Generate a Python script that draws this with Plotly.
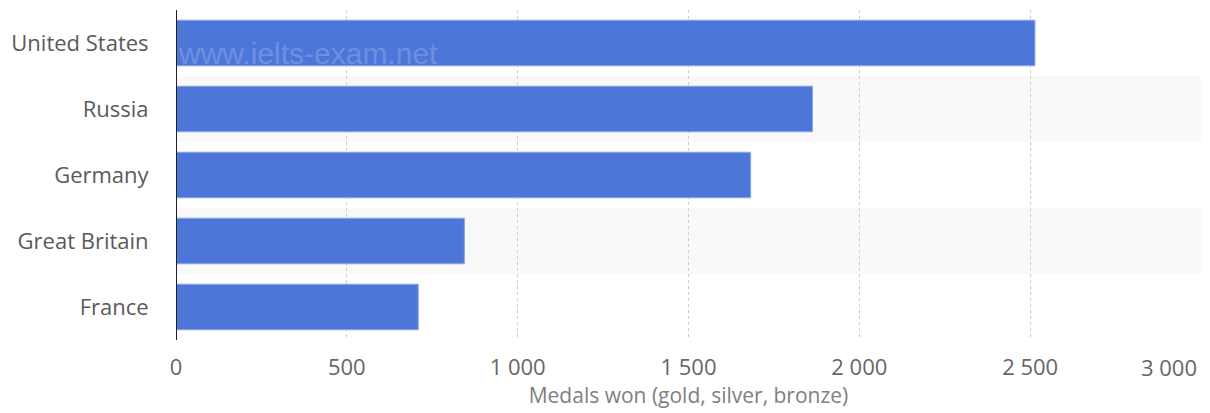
import plotly.graph_objects as go

countries = ["United States", "Russia", "Germany", "Great Britain", "France"]
medals = [2514, 1863, 1682, 844, 709]
tick_vals = [0, 500, 1000, 1500, 2000, 2500, 3000]
tick_text = ["0", "500", "1 000", "1 500", "2 000", "2 500", "3 000"]
banded_rows = ["Russia", "Great Britain"]

fig = go.Figure()
fig.add_trace(go.Bar(
    x=medals, y=countries, orientation="h",
    marker=dict(color="#4d76d9", line=dict(color="#8aa4e6", width=1)),
    width=0.69,
))

shapes = []
for name in banded_rows:
    idx = countries.index(name)
    shapes.append(dict(type="rect", xref="paper", yref="y", x0=0, x1=1,
                       y0=idx - 0.5, y1=idx + 0.5, fillcolor="#f9f9f9",
                       line=dict(width=0), layer="below"))

# last tick label is drawn shifted left so it stays inside the figure
shown_text = tick_text[:-1] + [""]

fig.update_layout(
    width=1210, height=413,
    margin=dict(l=176, r=9, t=10, b=73),
    paper_bgcolor="white", plot_bgcolor="white",
    font=dict(family="Open Sans", color="#666666"),
    showlegend=False,
    shapes=shapes,
    xaxis=dict(range=[0, 3000], tickvals=tick_vals, ticktext=shown_text,
               showgrid=True, gridcolor="#cccccc", griddash="dot", gridwidth=1,
               zeroline=False, showline=False, automargin=False,
               tickfont=dict(size=22, color="#666666"),
               ticks="outside", ticklen=8, tickcolor="rgba(0,0,0,0)",
               title=dict(text="Medals won (gold, silver, bronze)",
                          font=dict(size=21, color="#808080"), standoff=5)),
    yaxis=dict(autorange="reversed", showgrid=False, zeroline=False,
               showline=False, automargin=False,
               tickfont=dict(size=22, color="#5a5a5a"),
               ticks="outside", ticklen=22, tickcolor="rgba(0,0,0,0)"),
    bargap=0.31,
)
fig.add_shape(type="line", xref="x", yref="paper", x0=0, x1=0, y0=0, y1=1,
              line=dict(color="#222222", width=2))
fig.add_annotation(text=tick_text[-1], xref="x", yref="paper",
                   x=tick_vals[-1], y=0, yshift=-10, xshift=-2,
                   xanchor="right", yanchor="top", showarrow=False,
                   font=dict(family="Open Sans", size=22, color="#666666"))
fig.add_annotation(text="www.ielts-exam.net", xref="paper", yref="paper",
                   x=0.0, y=1 - 44 / 330, xanchor="left", yanchor="middle",
                   showarrow=False,
                   font=dict(family="Liberation Sans", size=30,
                             color="rgba(255,255,255,0.2)"))

fig.write_html("out.html", config={"displayModeBar": False},
               post_script="document.body.style.margin='0';")
